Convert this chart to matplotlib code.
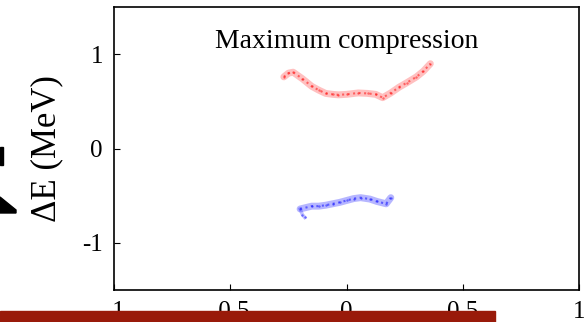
import matplotlib
matplotlib.use("Agg")
import matplotlib.pyplot as plt
from matplotlib.patches import Rectangle, Polygon

plt.rcParams['font.family'] = ['Liberation Serif', 'DejaVu Serif']

# centre line of the upper (red) band
red_x = [-0.27, -0.25, -0.23, -0.19, -0.15, -0.12, -0.09, -0.06, -0.035, 0.0, 0.05, 0.09, 0.125, 0.155, 0.19, 0.225, 0.26, 0.30, 0.33, 0.36]
red_y = [0.76, 0.80, 0.81, 0.74, 0.66, 0.62, 0.585, 0.575, 0.57, 0.575, 0.59, 0.585, 0.575, 0.54, 0.59, 0.65, 0.70, 0.76, 0.82, 0.90]

# centre line of the lower (blue) band
blue_x = [-0.20, -0.19, -0.18, -0.15, -0.12, -0.09, -0.06, -0.03, 0.0, 0.03, 0.06, 0.10, 0.13, 0.17, 0.19]
blue_y = [-0.64, -0.70, -0.73, -0.61, -0.61, -0.60, -0.585, -0.57, -0.55, -0.53, -0.52, -0.535, -0.56, -0.585, -0.52]

x_ticks = [-1, -0.5, 0, 0.5, 1]
x_labels = ['-1', '-0.5', '0', '0.5', '1']
y_ticks = [-1, 0, 1]
y_labels = ['-1', '0', '1']

fig = plt.figure(figsize=(5.88, 3.22), dpi=100)
ax = fig.add_axes([0.194, 0.099, 0.791, 0.879])

ax.plot(red_x, red_y, color='#ff3030', lw=5, alpha=0.3, solid_capstyle='round')
ax.plot(red_x, red_y, color='#ff0000', lw=1.5, alpha=0.5, ls=':')
ax.scatter(red_x, red_y, s=3, color='#ff0000', alpha=0.5, linewidths=0)
ax.plot(blue_x[:1] + blue_x[3:], blue_y[:1] + blue_y[3:], color='#3030ff', lw=5, alpha=0.35,
        solid_capstyle='round')
ax.plot(blue_x[:1] + blue_x[3:], blue_y[:1] + blue_y[3:], color='#0000ff', lw=1.5, alpha=0.5, ls=':')
ax.plot(blue_x[:3], blue_y[:3], color='#3030ff', lw=2.5, alpha=0.3)
ax.scatter(blue_x, blue_y, s=3, color='#0000ff', alpha=0.5, linewidths=0)

ax.text(0, 1.13, 'Maximum compression', ha='center', va='center', fontsize=20)

ax.set_xlim(-1, 1)
ax.set_ylim(-1.5, 1.5)
ax.set_xticks(x_ticks)
ax.set_xticklabels(x_labels)
ax.set_yticks(y_ticks)
ax.set_yticklabels(y_labels)
ax.tick_params(direction='in', length=4, width=0.8, labelsize=18, top=False, right=False, pad=8)
for s in ax.spines.values():
    s.set_linewidth(1.2)

ax.set_ylabel('ΔE (MeV)', fontsize=25)
ax.yaxis.set_label_coords(-0.11, 0.5)

# bits of the neighbouring panels that show at the edges
fig.patches.append(Rectangle((0, 0), 495 / 588, 11 / 322, transform=fig.transFigure,
                             color='#991a0a', zorder=5))
fig.patches.append(Rectangle((0, 1 - 165 / 322), 3 / 588, 18 / 322, transform=fig.transFigure,
                             color='black', zorder=5))
fig.patches.append(Polygon([(0, 1 - 197 / 322), (16 / 588, 1 - 210 / 322), (16 / 588, 1 - 213 / 322),
                            (0, 1 - 213 / 322)], closed=True, transform=fig.transFigure,
                           color='black', zorder=5))

fig.savefig('out.png', dpi=100)
